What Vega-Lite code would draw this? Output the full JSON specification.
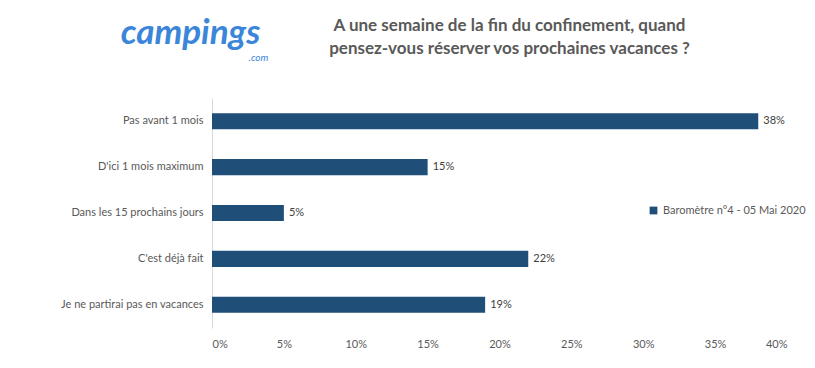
{
  "$schema": "https://vega.github.io/schema/vega-lite/v6.json",
  "autosize": {"type": "none"},
  "width": 575,
  "height": 230,
  "padding": {"left": 212, "top": 98, "right": 28, "bottom": 40},
  "background": "white",
  "config": {
    "view": {"stroke": null},
    "font": "Lato"
  },
  "title": {
    "text": ["A une semaine de la fin du confinement, quand", "pensez-vous  réserver vos prochaines vacances ?"],
    "anchor": "middle",
    "dx": 10,
    "offset": -43,
    "fontSize": 17,
    "fontWeight": "bold",
    "font": "Lato",
    "color": "#595959",
    "lineHeight": 23
  },
  "data": {
    "values": [
      {"categorie": "Pas avant 1 mois", "valeur": 0.38, "serie": "Baromètre n°4 - 05 Mai 2020", "ordre": 1},
      {"categorie": "D'ici 1 mois maximum", "valeur": 0.15, "serie": "Baromètre n°4 - 05 Mai 2020", "ordre": 2},
      {"categorie": "Dans les 15 prochains jours", "valeur": 0.05, "serie": "Baromètre n°4 - 05 Mai 2020", "ordre": 3},
      {"categorie": "C'est déjà fait", "valeur": 0.22, "serie": "Baromètre n°4 - 05 Mai 2020", "ordre": 4},
      {"categorie": "Je ne partirai pas en vacances", "valeur": 0.19, "serie": "Baromètre n°4 - 05 Mai 2020", "ordre": 5}
    ]
  },
  "encoding": {
    "y": {
      "field": "categorie",
      "type": "nominal",
      "sort": {"field": "ordre", "order": "ascending"},
      "scale": {"paddingInner": 0.65, "paddingOuter": 0.33},
      "axis": {
        "title": "campings",
        "titleAngle": 0,
        "titleX": -22,
        "titleY": -66,
        "titleAlign": "center",
        "titleBaseline": "middle",
        "titleFont": "Lato",
        "titleFontSize": 35,
        "titleFontStyle": "italic",
        "titleFontWeight": "bold",
        "titleColor": "#3b86d8",
        "ticks": false,
        "domainColor": "#d9d9d9",
        "labelPadding": 9,
        "labelFontSize": 11,
        "labelColor": "#595959",
        "labelFont": "Lato"
      }
    },
    "x": {
      "field": "valeur",
      "type": "quantitative",
      "scale": {"domain": [0, 0.4]},
      "axis": {
        "format": ".0%",
        "values": [0, 0.05, 0.1, 0.15, 0.2, 0.25, 0.3, 0.35, 0.4],
        "labelOverlap": false,
        "grid": false,
        "domain": false,
        "ticks": false,
        "labelPadding": 10,
        "labelFontSize": 11,
        "labelColor": "#595959",
        "labelFont": "Lato",
        "title": ".com",
        "titleX": 46,
        "titleY": -271,
        "titleAlign": "center",
        "titleBaseline": "middle",
        "titleFontSize": 10,
        "titleFontWeight": "normal",
        "titleFontStyle": "italic",
        "titleColor": "#3b86d8"
      }
    }
  },
  "layer": [
    {
      "mark": {"type": "bar"},
      "encoding": {
        "color": {
          "field": "serie",
          "type": "nominal",
          "scale": {"range": ["#1f4e79"]},
          "legend": {
            "title": null,
            "orient": "none",
            "legendX": 436,
            "legendY": 107,
            "symbolType": "square",
            "symbolSize": 60,
            "labelFontSize": 11,
            "labelColor": "#595959",
            "labelFont": "Lato",
            "labelOffset": 4
          }
        }
      }
    },
    {
      "mark": {"type": "text", "align": "left", "dx": 5, "fontSize": 11, "color": "#404040", "font": "Lato"},
      "encoding": {
        "text": {"field": "valeur", "type": "quantitative", "format": ".0%"}
      }
    }
  ]
}
